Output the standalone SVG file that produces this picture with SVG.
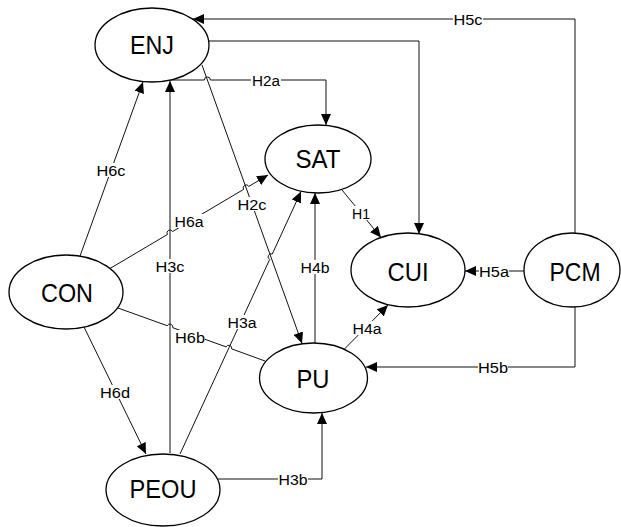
<svg xmlns="http://www.w3.org/2000/svg" width="621" height="527" viewBox="0 0 621 527">
<style>
.node ellipse{fill:#fff;stroke:#000;stroke-width:1.3}
.node text{font-family:"Liberation Sans",Arial,sans-serif;font-size:26px;text-anchor:middle;fill:#000}
.edge path{fill:none;stroke:#111;stroke-width:1}
.arr{marker-end:url(#ah)}
.lbl rect{fill:#fff}
.lbl text{font-family:"Liberation Sans",Arial,sans-serif;font-size:15.5px;text-anchor:middle;fill:#000}
</style>
<defs>
<marker id="ah" markerUnits="userSpaceOnUse" markerWidth="11" markerHeight="10" refX="11" refY="5" orient="auto">
<path d="M0,0 L11,5 L0,10 z" fill="#000"/>
</marker>
</defs>
<rect width="621" height="527" fill="#fff"/>
<g id="connectors" class="edge">
<path id="e-H5c" class="arr" d="M575,233 L575,19 L193,19"/>
<path id="e-ENJ-CUI" class="arr" d="M209,41 L419,41 L419,234"/>
<path id="e-H2a" class="arr" d="M168,80 L204.4,80 A3,3 0 0 1 210.4,80 L326,80 L326,125"/>
<path id="e-H2c" class="arr" d="M202,65 L302,343.5"/>
<path id="e-H6a" class="arr" d="M110,268.5 L167.4,234.5 A3,3 0 0 1 172.6,231.5 L243.6,189.4 A3,3 0 0 1 248.8,186.4 L268,175"/>
<path id="e-H6c" class="arr" d="M80,256 L143,82"/>
<path id="e-H3c" class="arr" d="M170,453 L170,81"/>
<path id="e-H6b" d="M118,308 L167.2,325.7 A3,3 0 0 1 172.8,327.7 L226.1,346.9 A3,3 0 0 1 231.7,348.9 L265,361"/>
<path id="e-H6d" class="arr" d="M84,327 L146,454"/>
<path id="e-H3a" class="arr" d="M180,454 L269.7,259.4 A3,3 0 0 1 272.3,254 L301,191.5"/>
<path id="e-H4b" class="arr" d="M315,343 L315,193"/>
<path id="e-H1" class="arr" d="M342,190 L381,237.5"/>
<path id="e-H4a" class="arr" d="M344,349.5 L388,305"/>
<path id="e-H5a" class="arr" d="M524,271 L465,271"/>
<path id="e-H5b" class="arr" d="M575,307 L575,367 L366,367"/>
<path id="e-H3b" class="arr" d="M218,479 L322,479 L322,413"/>
<g class="lbl">
<rect x="453" y="12" width="30" height="14"/><text x="468" y="24.5" textLength="29" lengthAdjust="spacingAndGlyphs">H5c</text>
<rect x="251" y="73" width="30" height="14"/><text x="266" y="85.5" textLength="28" lengthAdjust="spacingAndGlyphs">H2a</text>
<rect x="237" y="197" width="30" height="14"/><text x="252" y="209.5" textLength="29" lengthAdjust="spacingAndGlyphs">H2c</text>
<rect x="96" y="163" width="30" height="14"/><text x="111" y="175.5" textLength="29" lengthAdjust="spacingAndGlyphs">H6c</text>
<rect x="174" y="214" width="30" height="14"/><text x="189" y="226.5" textLength="29" lengthAdjust="spacingAndGlyphs">H6a</text>
<rect x="155" y="259" width="30" height="14"/><text x="170" y="271.5" textLength="29" lengthAdjust="spacingAndGlyphs">H3c</text>
<rect x="227" y="315" width="30" height="14"/><text x="242" y="327.5" textLength="29" lengthAdjust="spacingAndGlyphs">H3a</text>
<rect x="175" y="330" width="30" height="14"/><text x="190" y="342.5" textLength="30" lengthAdjust="spacingAndGlyphs">H6b</text>
<rect x="100" y="385" width="30" height="14"/><text x="115" y="397.5" textLength="30" lengthAdjust="spacingAndGlyphs">H6d</text>
<rect x="300" y="260" width="30" height="14"/><text x="315" y="272.5" textLength="29" lengthAdjust="spacingAndGlyphs">H4b</text>
<rect x="351" y="206" width="20" height="14"/><text x="361" y="218.5" textLength="18" lengthAdjust="spacingAndGlyphs">H1</text>
<rect x="352" y="321" width="30" height="14"/><text x="367" y="333.5" textLength="29" lengthAdjust="spacingAndGlyphs">H4a</text>
<rect x="479" y="264" width="30" height="14"/><text x="494" y="276.5" textLength="30" lengthAdjust="spacingAndGlyphs">H5a</text>
<rect x="478" y="360" width="30" height="14"/><text x="493" y="372.5" textLength="30" lengthAdjust="spacingAndGlyphs">H5b</text>
<rect x="278" y="472" width="30" height="14"/><text x="293" y="484.5" textLength="29" lengthAdjust="spacingAndGlyphs">H3b</text>
</g>
</g>
<g id="ENJ" class="node"><ellipse cx="152" cy="45" rx="57" ry="37"/><text x="152" y="54" textLength="44" lengthAdjust="spacingAndGlyphs">ENJ</text></g>
<g id="SAT" class="node"><ellipse cx="318" cy="159" rx="53" ry="34"/><text x="318" y="168" textLength="45" lengthAdjust="spacingAndGlyphs">SAT</text></g>
<g id="CUI" class="node"><ellipse cx="408" cy="270" rx="57" ry="37"/><text x="408" y="281" textLength="41" lengthAdjust="spacingAndGlyphs">CUI</text></g>
<g id="PCM" class="node"><ellipse cx="572" cy="270" rx="48" ry="37"/><text x="575" y="281" textLength="51" lengthAdjust="spacingAndGlyphs">PCM</text></g>
<g id="PU" class="node"><ellipse cx="313.5" cy="378" rx="54" ry="35"/><text x="313" y="388" textLength="33" lengthAdjust="spacingAndGlyphs">PU</text></g>
<g id="CON" class="node"><ellipse cx="66" cy="292" rx="57" ry="37"/><text x="67" y="302" textLength="52" lengthAdjust="spacingAndGlyphs">CON</text></g>
<g id="PEOU" class="node"><ellipse cx="163" cy="490" rx="57" ry="36"/><text x="163" y="498" textLength="67" lengthAdjust="spacingAndGlyphs">PEOU</text></g>
</svg>
